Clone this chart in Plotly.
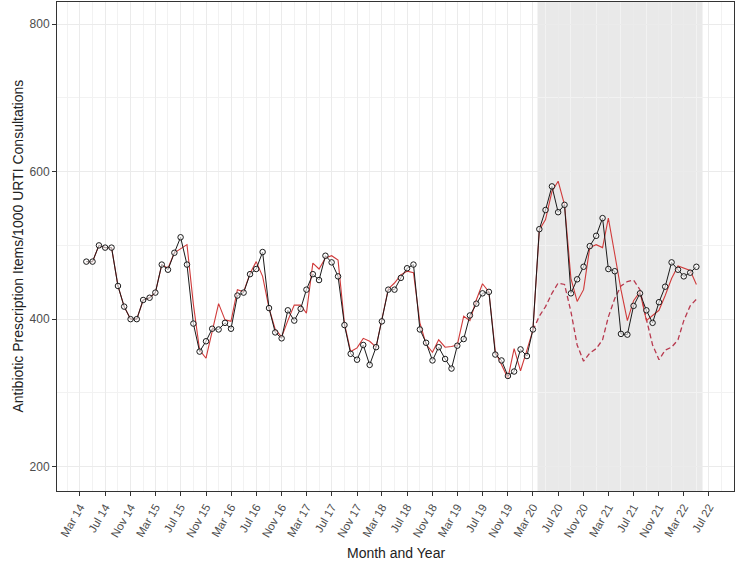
import pandas as pd
import plotly.graph_objects as go

# ---- data ----
months = pd.date_range("2014-04-01", periods=98, freq="MS")

observed = [478, 478, 500, 497, 497, 445, 417, 400, 400, 426, 429, 436, 474, 467, 490, 511,
            474, 394, 356, 370, 387, 386, 395, 387, 432, 436, 461, 468, 491, 415, 382, 374,
            412, 398, 414, 440, 461, 453, 486, 477, 458, 392, 353, 345, 365, 338, 362, 397,
            440, 440, 456, 469, 474, 386, 368, 344, 362, 346, 333, 364, 373, 405, 421, 435,
            437, 352, 344, 323, 329, 359, 350, 386, 522, 548, 580, 545, 555, 435, 454, 471,
            499, 513, 537, 468, 465, 380, 379, 418, 435, 412, 395, 423, 444, 477, 467, 458,
            463, 471]

fitted = [478, 478, 500, 497, 497, 445, 417, 400, 400, 426, 429, 436, 474, 469, 490, 495,
          501, 420, 358, 347, 385, 421, 399, 397, 440, 437, 462, 478, 458, 415, 386, 376,
          398, 419, 419, 408, 476, 468, 483, 486, 480, 394, 356, 361, 374, 370, 362, 400,
          441, 449, 460, 465, 463, 395, 366, 355, 372, 362, 363, 365, 404, 398, 426, 448,
          437, 356, 338, 320, 360, 330, 358, 385, 521, 535, 573, 587, 555, 455, 424, 440,
          497, 501, 497, 537, 488, 440, 398, 425, 437, 398, 405, 412, 432, 455, 472, 469,
          466, 447]

cf_months = pd.date_range("2020-03-01", periods=27, freq="MS")
counterfactual = [385, 404, 417, 435, 449, 447, 410, 365, 343, 354, 360, 372, 403, 428,
                  445, 451, 453, 440, 400, 365, 345, 358, 362, 372, 398, 418, 427]

shade_start = "2020-03-23"
shade_end = "2022-05-31"

x_range = ["2013-11-10", "2022-10-30"]
y_range = [167, 830]

x_title = "Month and Year"
y_title = "Antibiotic Prescription Items/1000 URTI Consultations"

# ---- figure ----
W, H = 736, 571
ML, MR, MT, MB = 57, 2, 2, 80
PW, PH = W - ML - MR, H - MT - MB

fig = go.Figure()

fig.add_shape(type="rect", xref="x", yref="paper", x0=shade_start, x1=shade_end,
              y0=0, y1=1, fillcolor="rgba(0,0,0,0.085)", line_width=0, layer="below")

fig.add_trace(go.Scatter(x=cf_months, y=counterfactual, mode="lines",
                         line=dict(color="#b8394e", width=1.3, dash="5px,3px"),
                         showlegend=False))
fig.add_trace(go.Scatter(x=months, y=fitted, mode="lines",
                         line=dict(color="#d03a3a", width=1.1),
                         showlegend=False))
fig.add_trace(go.Scatter(x=months, y=observed, mode="lines+markers",
                         line=dict(color="#1a1a1a", width=1),
                         marker=dict(symbol="circle", size=5.5, color="rgba(255,255,255,0.6)",
                                     line=dict(color="#1a1a1a", width=1)),
                         showlegend=False))

grid_c = "#ebebeb"
fig.update_layout(
    width=W, height=H,
    margin=dict(l=ML, r=MR, t=MT, b=MB),
    paper_bgcolor="white", plot_bgcolor="white",
    font=dict(family="Liberation Sans, Arial, sans-serif", color="#222222"),
    showlegend=False,
    annotations=[
        dict(text=x_title, xref="paper", yref="paper", x=0.5, y=-(553 - (MT + PH)) / PH,
             xanchor="center", yanchor="middle", showarrow=False,
             font=dict(size=14, color="#222222")),
        dict(text=y_title, xref="paper", yref="paper", x=(17 - ML) / PW, y=0.5,
             xanchor="center", yanchor="middle", textangle=-90, showarrow=False,
             font=dict(size=14, color="#222222")),
    ],
)
fig.update_xaxes(
    type="date", range=x_range, automargin=False,
    tick0="2014-03-01", dtick="M4", tickformat="%b %y", tickangle=-60,
    ticks="outside", ticklen=4, tickcolor="#333333",
    tickfont=dict(size=11.5, color="#4d4d4d"),
    showgrid=True, gridcolor=grid_c, gridwidth=1,
    minor=dict(tick0="2014-01-01", dtick="M2", showgrid=True, gridcolor="#f2f2f2", gridwidth=1),
    showline=True, linecolor="#333333", linewidth=1, mirror=True,
    zeroline=False,
)
fig.update_yaxes(
    range=y_range, tick0=200, dtick=200, automargin=False,
    ticks="outside", ticklen=4, tickcolor="#333333",
    tickfont=dict(size=12, color="#4d4d4d"),
    showgrid=True, gridcolor=grid_c, gridwidth=1,
    minor=dict(dtick=100, showgrid=True, gridcolor="#f2f2f2", gridwidth=1),
    showline=True, linecolor="#333333", linewidth=1, mirror=True,
    zeroline=False,
)

fig.write_html("out.html", config={"displayModeBar": False},
               post_script="document.body.style.margin='0';")
